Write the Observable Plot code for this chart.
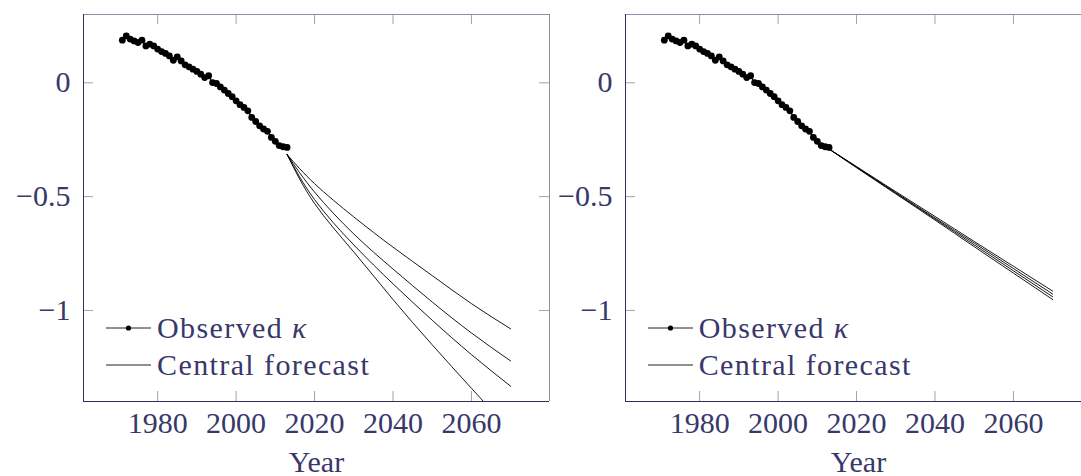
<!DOCTYPE html>
<html><head><meta charset="utf-8">
<script src="https://cdn.jsdelivr.net/npm/d3@7"></script>
<script src="https://cdn.jsdelivr.net/npm/@observablehq/plot@0.6"></script>
<style>
html,body{margin:0;padding:0;background:#fff;overflow:hidden;}
#wrap{position:relative;width:1081px;height:476px;overflow:hidden;background:#fff;}
.panel{position:absolute;top:0;width:554px;height:476px;}
.panel svg{background:transparent;max-width:none !important;}
.legend{position:absolute;font-family:"Liberation Serif","DejaVu Serif","Times New Roman",serif;font-size:30px;color:#38386a;letter-spacing:1.4px;}
.legend .row{position:absolute;left:0;white-space:nowrap;display:flex;align-items:center;height:36px;}
.legend .row svg{display:block;margin-right:6px;}
</style></head><body><div id="wrap"></div>
<script>
// Observed kappa
const obsYears = [1971,1972,1973,1974,1975,1976,1977,1978,1979,1980,1981,1982,1983,1984,1985,1986,1987,1988,1989,1990,1991,1992,1993,1994,1995,1996,1997,1998,1999,2000,2001,2002,2003,2004,2005,2006,2007,2008,2009,2010,2011,2012,2013];
const obsKappa = [0.187,0.206,0.192,0.184,0.177,0.187,0.162,0.170,0.162,0.148,0.137,0.129,0.118,0.099,0.114,0.096,0.079,0.070,0.060,0.050,0.038,0.023,0.031,0.001,-0.003,-0.018,-0.032,-0.047,-0.061,-0.079,-0.096,-0.108,-0.123,-0.152,-0.170,-0.189,-0.203,-0.213,-0.240,-0.257,-0.276,-0.281,-0.284];

// Central forecasts
const fcYears = [2013,2020,2030,2040,2050,2060,2070];
const leftF1 = [-0.315,-0.443,-0.589,-0.722,-0.847,-0.970,-1.081];
const leftF2 = [-0.315,-0.480,-0.664,-0.818,-0.963,-1.099,-1.222];
const leftF3 = [-0.315,-0.513,-0.712,-0.883,-1.043,-1.194,-1.333];
const leftF4 = [-0.315,-0.530,-0.743,-0.952,-1.151,-1.342,-1.529];
const rightF1 = [-0.291,-0.368,-0.478,-0.587,-0.697,-0.806,-0.915];
const rightF2 = [-0.291,-0.370,-0.482,-0.594,-0.704,-0.816,-0.928];
const rightF3 = [-0.291,-0.371,-0.485,-0.598,-0.712,-0.826,-0.940];
const rightF4 = [-0.291,-0.373,-0.488,-0.603,-0.720,-0.836,-0.952];

// Axes
const xDomain = [1961.1, 2079.9];
const yDomain = [-1.4, 0.3];
const xTicks = [1980, 2000, 2020, 2040, 2060];
const yTicks = [-1, -0.5, 0];
const xLabel = "Year";
const legendLabels = ["Observed ", "κ", "Central forecast"];

const fontFam = '"Liberation Serif", "DejaVu Serif", "Times New Roman", serif';
const textColor = "#38386a";
const frameDark = "#2e2e5c";
const frameLight = "#8e8ea8";
const tickGray = "#a3a3a3";
const W = 554, H = 476, mL = 83, mR = 5, mT = 14, mB = 75;
const fw = W - mL - mR, fh = H - mT - mB, tl = 10;
const fmt = d => String(d).replace("-", "\u2212");

function makePanel(series, leftPos) {
  const obs = obsYears.map((y, i) => ({year: y, k: obsKappa[i]}));
  const fc = series.flatMap((s, j) => fcYears.map((y, i) => ({year: y, k: s[i], id: j})));
  const plot = Plot.plot({
    width: W, height: H,
    marginLeft: mL, marginRight: mR, marginTop: mT, marginBottom: mB,
    x: {domain: xDomain, label: null},
    y: {domain: yDomain, label: null},
    style: {fontFamily: fontFam, fontSize: "30px", color: textColor, background: "transparent", overflow: "visible", maxWidth: "none"},
    marks: [
      Plot.ruleX(xTicks, {insetTop: fh - tl, stroke: tickGray}),
      Plot.ruleX(xTicks, {insetBottom: fh - tl, stroke: tickGray}),
      Plot.ruleY(yTicks, {insetRight: fw - tl, stroke: tickGray}),
      Plot.ruleY(yTicks, {insetLeft: fw - tl, stroke: tickGray}),
      Plot.line(fc, {x: "year", y: "k", z: "id", stroke: "black", strokeWidth: 0.9, curve: "natural", clip: true}),
      Plot.line(obs, {x: "year", y: "k", stroke: "black", strokeWidth: 1.3}),
      Plot.dot(obs, {x: "year", y: "k", r: 3.4, fill: "black"}),
      Plot.ruleX([xDomain[1]], {stroke: frameLight}),
      Plot.ruleY([yDomain[1]], {stroke: frameLight}),
      Plot.ruleX([xDomain[0]], {stroke: frameDark}),
      Plot.ruleY([yDomain[0]], {stroke: frameDark}),
      Plot.axisX(xTicks, {tickSize: 0, tickPadding: 10, tickFormat: d => String(d)}),
      Plot.axisY(yTicks, {tickSize: 0, tickPadding: 13, tickFormat: fmt}),
      Plot.text([xLabel], {frameAnchor: "bottom", dy: 70, fill: textColor})
    ]
  });
  plot.style.maxWidth = "none";
  const div = document.createElement("div");
  div.className = "panel";
  div.style.left = leftPos + "px";
  div.appendChild(plot);
  document.getElementById("wrap").appendChild(div);

  // legend (inside the frame, lower left)
  const lg = document.createElement("div");
  lg.className = "legend";
  lg.style.left = (leftPos + mL + 23) + "px";
  lg.style.top = "0px";
  const r1 = document.createElement("div");
  r1.className = "row"; r1.style.top = (327.7 - 18) + "px";
  r1.innerHTML = `<svg width="45" height="12"><line x1="0" x2="45" y1="6" y2="6" stroke="#222" stroke-width="1"/><circle cx="22.5" cy="6" r="2.6" fill="black"/></svg><span>${legendLabels[0]}<i>${legendLabels[1]}</i></span>`;
  const r2 = document.createElement("div");
  r2.className = "row"; r2.style.top = (365 - 18) + "px";
  r2.innerHTML = `<svg width="45" height="12"><line x1="0" x2="45" y1="6" y2="6" stroke="#222" stroke-width="1"/></svg><span>${legendLabels[2]}</span>`;
  lg.appendChild(r1); lg.appendChild(r2);
  document.getElementById("wrap").appendChild(lg);
}

makePanel([leftF1, leftF2, leftF3, leftF4], 0);
makePanel([rightF1, rightF2, rightF3, rightF4], 624.7 - mL);
</script></body></html>
